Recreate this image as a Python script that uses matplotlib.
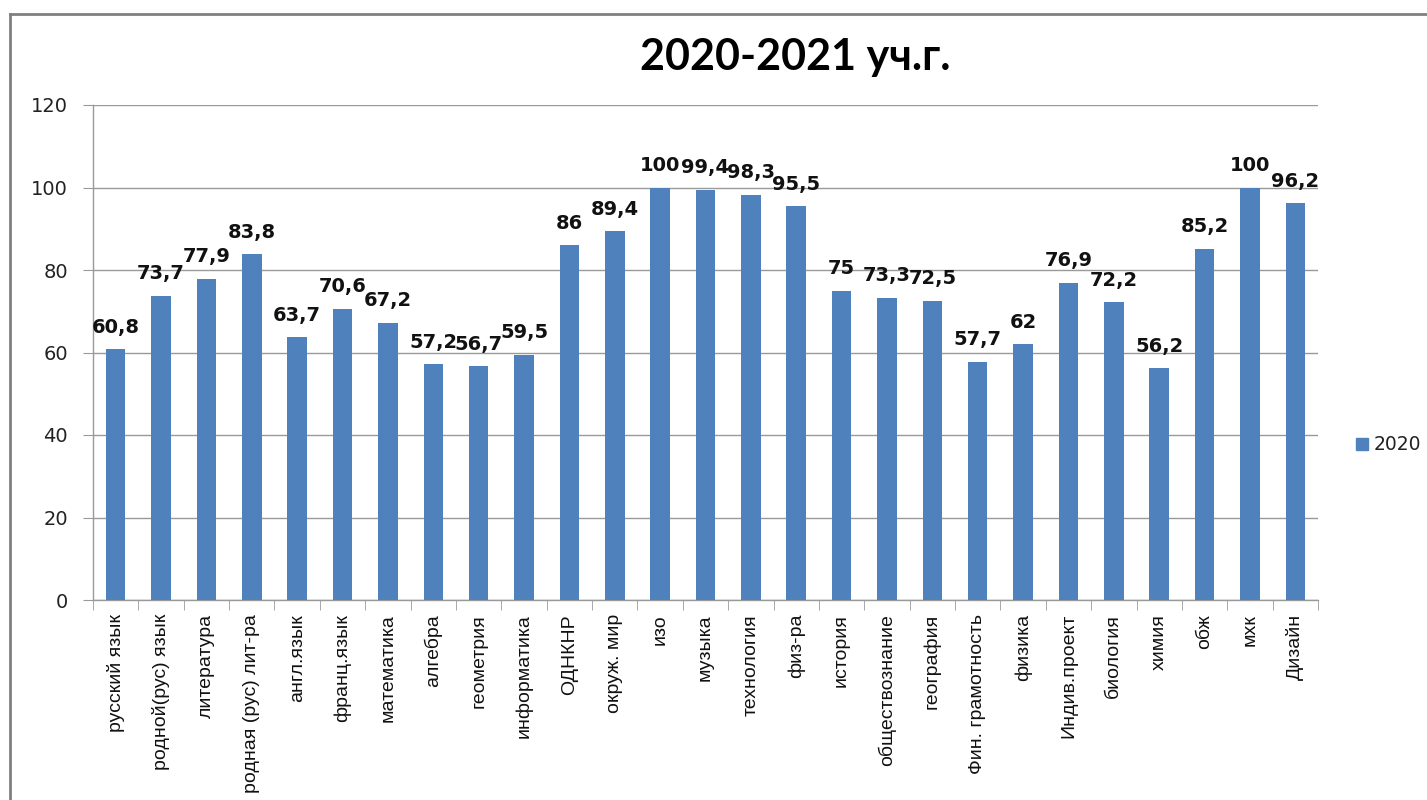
import matplotlib
matplotlib.use("Agg")
import matplotlib.pyplot as plt
from matplotlib.lines import Line2D
import numpy as np

categories = ["русский язык", "родной(рус) язык", "литература", "родная (рус) лит-ра",
              "англ.язык", "франц.язык", "математика", "алгебра", "геометрия",
              "информатика", "ОДНКНР", "окруж. мир", "изо", "музыка", "технология",
              "физ-ра", "история", "обществознание", "география", "Фин. грамотность",
              "физика", "Индив.проект", "биология", "химия", "обж", "мхк", "Дизайн"]
values = [60.8, 73.7, 77.9, 83.8, 63.7, 70.6, 67.2, 57.2, 56.7, 59.5, 86, 89.4, 100,
          99.4, 98.3, 95.5, 75, 73.3, 72.5, 57.7, 62, 76.9, 72.2, 56.2, 85.2, 100, 96.2]
yticks = [0, 20, 40, 60, 80, 100, 120]
series_name = "2020"
title = "2020-2021 уч.г."

W, H = 1427, 800
fig = plt.figure(figsize=(W / 100, H / 100), dpi=100)
ax = fig.add_axes([93 / W, 1 - 600 / H, (1318 - 93) / W, (600 - 105) / H])

bar_color = "#4F81BD"
grid_color = "#999999"
x = np.arange(len(categories))
ax.bar(x, values, width=0.43, color=bar_color, zorder=3)

ax.set_xlim(-0.5, len(categories) - 0.5)
ax.set_ylim(0, 120)
ax.set_yticks(yticks)
ax.yaxis.grid(True, color=grid_color, lw=1, zorder=0)
ax.set_yticklabels([str(t) for t in yticks], fontsize=14, family="DejaVu Sans", color="#222222")
ax.tick_params(axis="y", length=7, color=grid_color, direction="out", pad=11)

ax.set_xticks(x)
ax.set_xticklabels(categories, rotation=90, fontsize=14,
                   family=["Liberation Sans", "DejaVu Sans"], color="#111111")
ax.tick_params(axis="x", which="major", length=0, pad=10)
ax.set_xticks(np.arange(-0.5, len(categories)), minor=True)
ax.tick_params(axis="x", which="minor", length=7, color=grid_color, direction="out")

for s in ["top", "right"]:
    ax.spines[s].set_visible(False)
for s in ["left", "bottom"]:
    ax.spines[s].set_color(grid_color)
    ax.spines[s].set_linewidth(1)

for xi, v in zip(x, values):
    lab = str(int(v)) if float(v).is_integer() else str(v).replace(".", ",")
    ax.annotate(lab, (xi, v), xytext=(0, 9), textcoords="offset points",
                ha="center", va="bottom", fontsize=14, fontweight="bold",
                family="DejaVu Sans", color="#111111", zorder=4)

fig.text(795 / W, 1 - 57 / H, title, ha="center", va="center", fontsize=31,
         fontweight="bold", family=["Lato", "DejaVu Sans"], color="#000000")

# legend
fig.patches.append(plt.Rectangle((1356 / W, 1 - 450 / H), 12 / W, 12 / H,
                                 transform=fig.transFigure, color=bar_color))
fig.text(1374 / W, 1 - 444 / H, series_name, ha="left", va="center", fontsize=13.5,
         family="DejaVu Sans", color="#222222")

# chart frame
fig.add_artist(Line2D([10 / W, 1.0], [1 - 14 / H, 1 - 14 / H], transform=fig.transFigure,
                      color="#808080", lw=2))
fig.add_artist(Line2D([10 / W, 10 / W], [1 - 14 / H, 0], transform=fig.transFigure,
                      color="#808080", lw=2))

fig.savefig("out.png", dpi=100)
